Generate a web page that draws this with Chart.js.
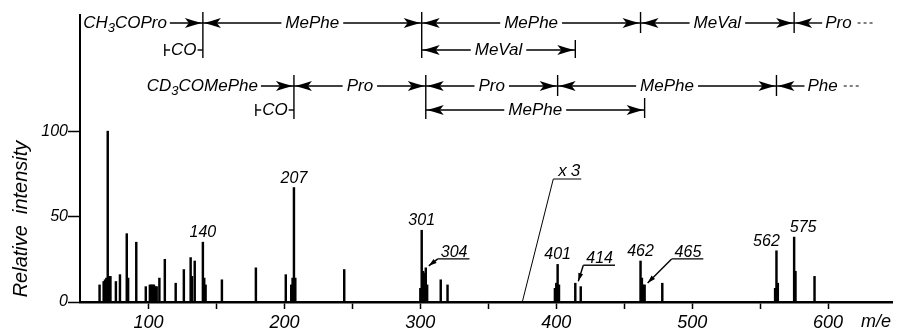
<!DOCTYPE html>
<html>
<head>
<meta charset="utf-8">
<title>Mass spectrum</title>
<script src="https://cdn.jsdelivr.net/npm/chart.js@4/dist/chart.umd.min.js"></script>
<style>
	html, body { margin: 0; padding: 0; background: #fff; }
</style>
</head>
<body>
<canvas id="spectrum" width="897" height="333"></canvas>
<script>
	// m/e of every line and its relative intensity (lines past m/e 375 are drawn x3)
	var massNumbers = [64, 67, 68, 69, 70, 71, 72, 76, 79, 84, 85, 91, 98,
		101, 102, 103, 104, 105, 106, 108, 112, 120, 126, 131, 132, 134,
		140, 141, 142, 154, 179, 201, 205, 206, 207, 208, 244,
		300, 301, 302, 303, 304, 305, 315, 320,
		399, 400, 401, 402, 414, 418, 462, 463, 464, 465, 478,
		561, 562, 563, 575, 576, 590];
	var intensities = [10, 12, 13, 14, 100, 15, 15, 12, 16, 40, 14, 35, 9,
		10, 10, 10, 10, 9, 9, 14, 25, 11, 19, 26, 15, 24,
		35, 14, 10, 13, 20, 16, 10, 14, 67, 14, 19,
		8, 42, 18, 17, 20, 10, 13, 10,
		8, 11, 22, 10, 11, 9, 24, 14, 10, 10, 11,
		8, 30, 11, 38, 18, 15];

	var xTickValues = [100, 150, 200, 250, 300, 350, 400, 450, 500, 550, 600];
	var yTickValues = [0, 50, 100];

	// lines with a plain number over them, and the CD3 series with an arrow
	var labelledPeaks = [140, 207, 301, 401, 462, 562, 575];
	var arrowPeaks = [304, 414, 465];

	// sequence ions, CH3CO series (upper) and CD3CO series (lower)
	var ionsA = [140, 301, 462, 575];
	var residuesA = ['MePhe', 'MePhe', 'MeVal'];
	var branchA = [301, 414];
	var branchALabel = 'MeVal';
	var coLossA = [112, 140];

	var ionsB = [207, 304, 401, 562];
	var residuesB = ['Pro', 'Pro', 'MePhe'];
	var branchB = [304, 465];
	var branchBLabel = 'MePhe';
	var coLossB = [179, 207];

	var magnifyFrom = 375;

	var FONT = '"Liberation Sans", "Arial", sans-serif';


	function arrowHead(ctx, x, y, dir){
		// dir 1 points right, -1 points left
		ctx.beginPath();
		ctx.moveTo(x, y);
		ctx.quadraticCurveTo(x - dir * 8, y - 2, x - dir * 17, y - 5);
		ctx.lineTo(x - dir * 13, y);
		ctx.lineTo(x - dir * 17, y + 5);
		ctx.quadraticCurveTo(x - dir * 8, y + 2, x, y);
		ctx.closePath();
		ctx.fill();
	}

	function hLine(ctx, x1, x2, y){
		if(x2 <= x1) return;
		ctx.beginPath();
		ctx.moveTo(x1, y);
		ctx.lineTo(x2, y);
		ctx.stroke();
	}

	function vLine(ctx, x, y1, y2){
		ctx.beginPath();
		ctx.moveTo(x, y1);
		ctx.lineTo(x, y2);
		ctx.stroke();
	}

	// |<--- text --->|
	function span(ctx, x1, x2, y, text){
		var w = ctx.measureText(text).width;
		var mid = (x1 + x2) / 2;
		hLine(ctx, x1, mid - w / 2 - 4, y);
		hLine(ctx, mid + w / 2 + 4, x2, y);
		arrowHead(ctx, x1 + 1, y, -1);
		arrowHead(ctx, x2 - 1, y, 1);
		ctx.fillText(text, mid, y);
	}

	// CH3COPro ---->|
	function formula(ctx, parts, xRight, y){
		var total = 0;
		var widths = [];
		for(var i = 0; i < parts.length; i++){
			ctx.font = parts[i][1] ? 'italic 13px ' + FONT : 'italic 17px ' + FONT;
			widths.push(ctx.measureText(parts[i][0]).width);
			total += widths[i];
		}
		var x = xRight - total;
		ctx.textAlign = 'left';
		for(var i = 0; i < parts.length; i++){
			ctx.font = parts[i][1] ? 'italic 13px ' + FONT : 'italic 17px ' + FONT;
			ctx.fillText(parts[i][0], x, parts[i][1] ? y + 5 : y);
			x += widths[i];
		}
		ctx.font = 'italic 17px ' + FONT;
		ctx.textAlign = 'center';
	}

	// |-CO-|
	function coBracket(ctx, x1, x2, y){
		var w = ctx.measureText('CO').width;
		var mid = (x1 + x2) / 2;
		vLine(ctx, x1, y - 6, y + 6);
		hLine(ctx, x1, mid - w / 2 - 1, y);
		hLine(ctx, mid + w / 2 + 1, x2, y);
		ctx.fillText('CO', mid, y);
	}

	// |<-- Pro ---
	function tail(ctx, x, y, text){
		var w = ctx.measureText(text).width;
		hLine(ctx, x, x + 28, y);
		arrowHead(ctx, x + 1, y, -1);
		ctx.textAlign = 'left';
		ctx.fillText(text, x + 31, y);
		ctx.textAlign = 'center';
		ctx.save();
		ctx.lineWidth = 1;
		ctx.setLineDash([3, 3]);
		hLine(ctx, x + 31 + w + 6, x + 31 + w + 24, y);
		ctx.restore();
	}

	function smallArrow(ctx, fromX, fromY, toX, toY){
		var a = Math.atan2(toY - fromY, toX - fromX);
		ctx.beginPath();
		ctx.moveTo(fromX, fromY);
		ctx.lineTo(toX, toY);
		ctx.stroke();
		ctx.beginPath();
		ctx.moveTo(toX, toY);
		ctx.lineTo(toX - 8 * Math.cos(a) + 2.5 * Math.sin(a), toY - 8 * Math.sin(a) - 2.5 * Math.cos(a));
		ctx.lineTo(toX - 8 * Math.cos(a) - 2.5 * Math.sin(a), toY - 8 * Math.sin(a) + 2.5 * Math.cos(a));
		ctx.closePath();
		ctx.fill();
	}

	function heightOf(mz){
		return intensities[massNumbers.indexOf(mz)];
	}


	var annotations = {
		id: 'annotations',
		afterDraw: function(chart){
			var ctx = chart.ctx;
			var xs = chart.scales.x;
			var ys = chart.scales.y;
			var px = function(v){ return xs.getPixelForValue(v); };
			var py = function(v){ return ys.getPixelForValue(v); };

			ctx.save();
			ctx.fillStyle = '#000';
			ctx.strokeStyle = '#000';
			ctx.lineWidth = 1.4;

			var r1 = 23, r2 = 50, r3 = 86, r4 = 110;

			ctx.font = 'italic 17px ' + FONT;
			ctx.textAlign = 'center';
			ctx.textBaseline = 'middle';

			// upper series
			formula(ctx, [['CH', 0], ['3', 1], ['COPro', 0]], px(ionsA[0]) - 36, r1);
			hLine(ctx, px(ionsA[0]) - 33, px(ionsA[0]), r1);
			arrowHead(ctx, px(ionsA[0]) - 1, r1, 1);
			for(var i = 0; i < ionsA.length; i++){
				var low = (ionsA[i] == coLossA[1] || ionsA[i] == branchA[0]) ? r2 + 8 : r1 + 10;
				vLine(ctx, px(ionsA[i]), r1 - 11, low);
				if(i < residuesA.length) span(ctx, px(ionsA[i]), px(ionsA[i + 1]), r1, residuesA[i]);
			}
			tail(ctx, px(ionsA[ionsA.length - 1]), r1, 'Pro');
			coBracket(ctx, px(coLossA[0]), px(coLossA[1]), r2);
			vLine(ctx, px(branchA[1]), r2 - 10, r2 + 8);
			span(ctx, px(branchA[0]), px(branchA[1]), r2, branchALabel);

			// lower series
			formula(ctx, [['CD', 0], ['3', 1], ['COMePhe', 0]], px(ionsB[0]) - 36, r3);
			hLine(ctx, px(ionsB[0]) - 33, px(ionsB[0]), r3);
			arrowHead(ctx, px(ionsB[0]) - 1, r3, 1);
			for(var i = 0; i < ionsB.length; i++){
				var low = (ionsB[i] == coLossB[1] || ionsB[i] == branchB[0]) ? r4 + 9 : r3 + 10;
				vLine(ctx, px(ionsB[i]), r3 - 11, low);
				if(i < residuesB.length) span(ctx, px(ionsB[i]), px(ionsB[i + 1]), r3, residuesB[i]);
			}
			tail(ctx, px(ionsB[ionsB.length - 1]), r3, 'Phe');
			coBracket(ctx, px(coLossB[0]), px(coLossB[1]), r4);
			vLine(ctx, px(branchB[1]), r4 - 12, r4 + 8);
			span(ctx, px(branchB[0]), px(branchB[1]), r4, branchBLabel);

			// numbers over the peaks
			var shift = { 562: -10, 575: 9 };
			ctx.font = 'italic 16px ' + FONT;
			ctx.textBaseline = 'alphabetic';
			labelledPeaks.forEach(function(mz){
				ctx.fillText(String(mz), px(mz) + (shift[mz] || 0), py(heightOf(mz)) - 5);
			});

			// underlined numbers with an arrow down to the line
			var lead = [[9, -7], [5, -16], [24, -24]];
			ctx.textAlign = 'left';
			arrowPeaks.forEach(function(mz, i){
				var tipX = px(mz) + 3, tipY = py(heightOf(mz)) - 2;
				var sx = tipX + lead[i][0], sy = tipY + lead[i][1];
				var w = ctx.measureText(String(mz)).width;
				smallArrow(ctx, sx, sy, tipX, tipY);
				hLine(ctx, sx, sx + w + 5, sy);
				ctx.fillText(String(mz), sx + 3, sy - 2);
			});

			// x3 marker
			var bx = px(magnifyFrom), by = py(0);
			ctx.lineWidth = 1;
			ctx.beginPath();
			ctx.moveTo(bx, by);
			ctx.lineTo(bx + 31, 179);
			ctx.lineTo(bx + 59, 179);
			ctx.stroke();
			ctx.font = 'italic 17px ' + FONT;
			ctx.letterSpacing = '4px';
			ctx.fillText('x3', bx + 36, 176);
			ctx.letterSpacing = '0px';

			// axis titles
			ctx.font = 'italic 18px ' + FONT;
			ctx.fillText('m/e', 861, 327);

			ctx.translate(27, 219);
			ctx.rotate(-Math.PI / 2);
			ctx.textAlign = 'center';
			ctx.font = 'italic 20px ' + FONT;
			ctx.fillText('Relative  intensity', 0, 0);
			ctx.restore();
		}
	};


	var points = [];
	for(var i = 0; i < massNumbers.length; i++){
		points.push({ x: massNumbers[i], y: intensities[i] });
	}

	var ctx = document.getElementById('spectrum').getContext('2d');
	var myChart = new Chart(ctx, {
		type: 'bar',
		data: {
			datasets: [{
				data: points,
				backgroundColor: '#000',
				borderWidth: 0,
				barThickness: 1.8,
				grouped: false
			}]
		},
		options: {
			responsive: false,
			animation: false,
			devicePixelRatio: 1,
			layout: { padding: { top: 15, right: 5, left: 0, bottom: 0 } },
			plugins: {
				legend: { display: false },
				tooltip: { enabled: false }
			},
			scales: {
				x: {
					type: 'linear',
					min: 49.6,
					max: 647,
					offset: false,
					afterBuildTicks: function(scale){
						scale.ticks = xTickValues.map(function(v){ return { value: v }; });
					},
					afterFit: function(scale){ scale.height = 31; },
					grid: { drawOnChartArea: false, offset: false, tickLength: 7, tickColor: '#000', tickWidth: 1.5 },
					border: { color: '#000', width: 2.5 },
					ticks: {
						color: '#000',
						padding: 3,
						maxRotation: 0,
						autoSkip: false,
						font: { family: FONT, style: 'italic', size: 18 },
						callback: function(v){ return v % 100 === 0 ? String(v) : ''; }
					}
				},
				y: {
					min: 0,
					max: 168,
					afterBuildTicks: function(scale){
						scale.ticks = yTickValues.map(function(v){ return { value: v }; });
					},
					afterFit: function(scale){ scale.width = 80; },
					grid: { drawOnChartArea: false, tickLength: 12, tickColor: '#000', tickWidth: 1.5 },
					border: { color: '#000', width: 2 },
					ticks: {
						color: '#000',
						padding: 0,
						font: { family: FONT, style: 'italic', size: 16 }
					}
				}
			}
		},
		plugins: [annotations]
	});
</script>
</body>
</html>
